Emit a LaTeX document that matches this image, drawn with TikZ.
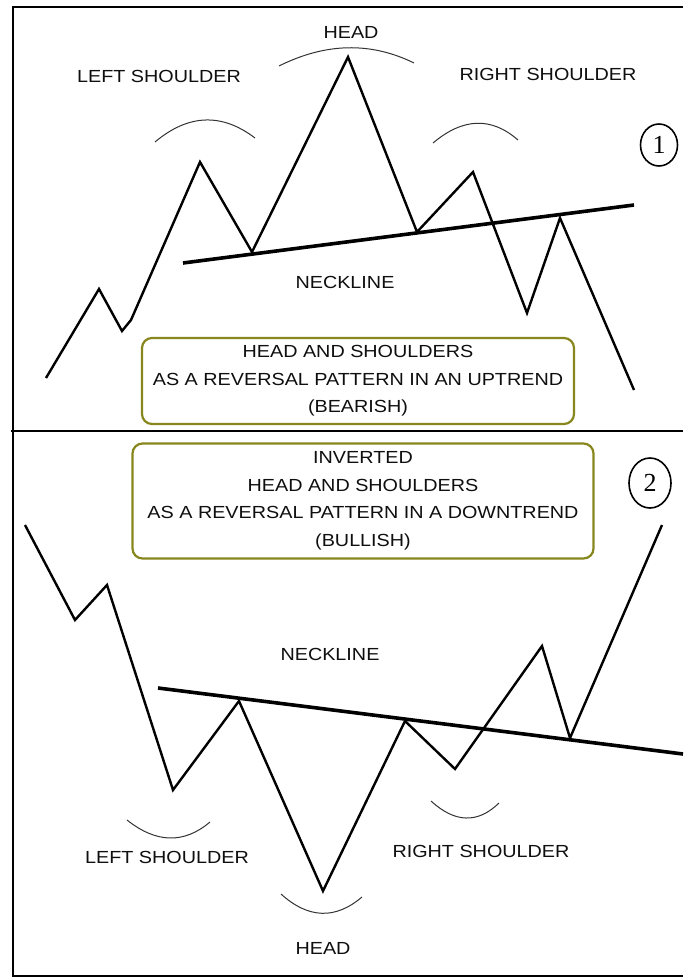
\documentclass[tikz,border=0pt]{standalone}
\usepackage{tikz}
\usepackage{xcolor}
\usepackage{fontspec}
\setmainfont[FakeStretch=1.13]{Liberation Sans}
\newfontfamily\digitfont{Liberation Serif}
\usetikzlibrary{shapes.geometric}

\definecolor{olivebox}{RGB}{135,135,30}
\definecolor{inktext}{RGB}{15,15,15}

\begin{document}
\begin{tikzpicture}[x=1pt, y=-1pt,
  kurs/.style={line width=2.4pt, line join=miter},
  hals/.style={line width=3.6pt},
  bogen/.style={line width=1pt, black!80},
  beschr/.style={font=\fontsize{17.5}{20}\selectfont, text=inktext, inner sep=0pt},
  kasten/.style={draw=olivebox, line width=2.2pt, rounded corners=10pt, align=center,
    font=\fontsize{17.5}{27.5}\selectfont, text=inktext},
  nummer/.style={draw, ellipse, line width=1.6pt, font=\digitfont\fontsize{26}{26}\selectfont,
    inner sep=0pt}]
\useasboundingbox (0,0) rectangle (683,979);
\fill[white] (0,0) rectangle (683,979);

% Rahmen
\draw[line width=2.6pt] (683,7) -- (13,7) -- (13,976) -- (683,976);
\draw[line width=2.8pt] (11,431) -- (683,431);

% oberer Teil: Schulter-Kopf-Schulter
\draw[kurs] (46,378) -- (99,289) -- (122,331) -- (131,320) -- (200,162) -- (252,252)
  -- (348,57) -- (417,232) -- (473,172) -- (527,313) -- (560,218) -- (634,390);
\draw[hals] (183,263) -- (634,205);
\draw[bogen] (155,142) .. controls (188.3,114) and (221.7,112.7) .. (255,138);
\draw[bogen] (279,66) .. controls (325.7,42.7) and (370.7,41.7) .. (414,63);
\draw[bogen] (433,143) .. controls (463,117.7) and (491.3,116.7) .. (518,140);

\node[beschr] (kopf1) at (351,32) {HEAD};
\node[beschr] (links1) at (159,76) {LEFT SHOULDER};
\node[beschr] (rechts1) at (548,74) {RIGHT SHOULDER};
\node[beschr] (hals1) at (345,282) {NECKLINE};
\node[nummer, minimum width=37pt, minimum height=42pt] (eins) at (659,145) {1};
\node[kasten, minimum width=432pt, minimum height=86pt] (info1) at (358,381)
  {HEAD AND SHOULDERS\\AS A REVERSAL PATTERN IN AN UPTREND\\(BEARISH)};

% unterer Teil: umgekehrt
\draw[kurs] (25,525) -- (75,620) -- (107,585) -- (173,790) -- (239,701) -- (323,891)
  -- (405,721) -- (455,769) -- (542,646) -- (570,738) -- (662,525);
\draw[hals] (158,688) -- (683,754);
\draw[bogen] (127,820) .. controls (156.3,843.3) and (184,844) .. (210,822);
\draw[bogen] (281,894) .. controls (308.3,918.7) and (335.3,919.7) .. (362,897);
\draw[bogen] (431,801) .. controls (455,823) and (477.7,823.7) .. (499,803);

\node[beschr] (hals2) at (330,654) {NECKLINE};
\node[beschr] (links2) at (167,857) {LEFT SHOULDER};
\node[beschr] (rechts2) at (481,851) {RIGHT SHOULDER};
\node[beschr] (kopf2) at (323,948) {HEAD};
\node[nummer, minimum width=42pt, minimum height=50pt] (zwei) at (650,483) {2};
\node[kasten, minimum width=461pt, minimum height=115pt] (info2) at (363,501)
  {INVERTED\\HEAD AND SHOULDERS\\AS A REVERSAL PATTERN IN A DOWNTREND\\(BULLISH)};
\end{tikzpicture}
\end{document}
